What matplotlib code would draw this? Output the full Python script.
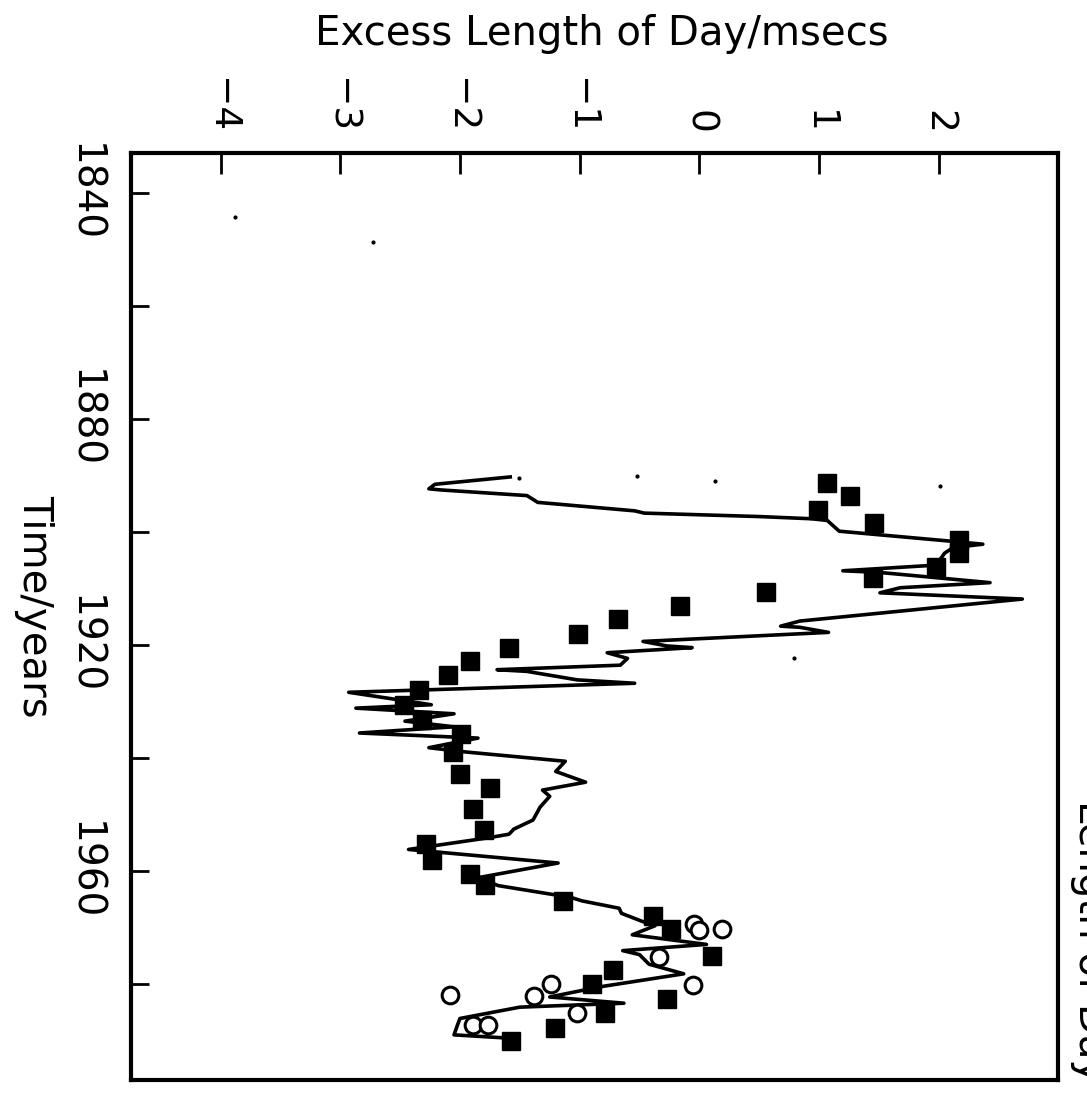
import matplotlib
matplotlib.use('Agg')
import matplotlib.pyplot as plt

# excess length of day curve (msecs) against time (years)
curve_years = [1890.3, 1891.6, 1892.4, 1892.6, 1893.6, 1894.8, 1896.3, 1896.7, 1897.3, 1897.7,
               1898.0, 1899.9, 1901.7, 1902.2, 1902.8, 1903.8, 1905.9, 1906.9, 1907.2, 1909.0,
               1909.9, 1910.8, 1911.9, 1915.8, 1916.7, 1916.9, 1917.8, 1919.4, 1920.2, 1920.5,
               1921.4, 1922.4, 1923.6, 1924.4, 1924.7, 1926.2, 1926.8, 1928.4, 1930.6, 1931.2,
               1932.2, 1933.5, 1934.5, 1935.6, 1936.5, 1938.2, 1938.9, 1940.6, 1942.4, 1944.3,
               1945.7, 1946.8, 1948.7, 1951.0, 1952.6, 1953.5, 1954.1, 1956.2, 1958.6, 1961.2,
               1962.6, 1964.7, 1965.3, 1966.6, 1967.5, 1968.9, 1969.7, 1971.3, 1973.0, 1974.1,
               1974.8, 1976.5, 1978.2, 1980.5, 1982.3, 1983.4, 1984.1, 1986.1, 1987.2, 1989.0,
               1989.6]
curve_lod = [-1.58, -2.21, -2.26, -2.16, -1.44, -1.35, -0.54, -0.46, 0.49, 0.94,
             1.07, 1.17, 2.12, 2.37, 2.12, 2.05, 1.98, 1.20, 1.51, 2.43,
             1.68, 1.51, 2.70, 0.84, 0.68, 0.84, 1.08, -0.47, -0.27, -0.06,
             -0.77, -0.60, -0.66, -1.69, -1.44, -1.02, -0.54, -2.93, -2.24, -2.87,
             -2.05, -2.46, -2.05, -2.84, -1.85, -2.26, -1.98, -1.12, -1.20, -0.95,
             -1.31, -1.25, -1.33, -1.39, -1.55, -1.59, -1.75, -2.43, -1.18, -1.85,
             -1.68, -1.07, -0.98, -0.67, -0.65, -0.48, -0.37, -0.56, 0.06, -0.64,
             -0.50, -0.42, -0.13, -0.83, -1.25, -0.63, -1.50, -2.00, -2.02, -2.05,
             -1.58]

# filled squares
square_years = [1891.3, 1893.6, 1896.1, 1898.5, 1901.4, 1903.8, 1906.2, 1908.2, 1910.7, 1913.1,
                1915.4, 1918.0, 1920.5, 1922.9, 1925.4, 1928.0, 1930.7, 1933.3, 1935.8, 1939.0,
                1942.8, 1945.3, 1949.0, 1952.8, 1955.2, 1958.0, 1960.5, 1962.5, 1965.4, 1967.9,
                1970.3, 1975.1, 1977.6, 1980.0, 1982.7, 1985.1, 1987.7, 1990.0]
square_lod = [1.07, 1.26, 0.99, 1.46, 2.17, 2.17, 1.98, 1.45, 0.56, -0.16,
              -0.68, -1.01, -1.59, -1.92, -2.10, -2.34, -2.47, -2.32, -1.99, -2.06,
              -2.00, -1.75, -1.89, -1.80, -2.28, -2.23, -1.92, -1.79, -1.14, -0.39,
              -0.24, 0.11, -0.72, -0.90, -0.27, -0.79, -1.21, -1.57]

# open circles
circle_years = [1982.0, 1980.0, 1982.2, 1987.2, 1987.3, 1985.2, 1975.3, 1969.4, 1970.4, 1970.3, 1980.2]
circle_lod = [-2.08, -1.24, -1.38, -1.89, -1.77, -1.02, -0.34, -0.04, 0.00, 0.19, -0.05]

# stray dots
dot_years = [1844.3, 1848.8, 1890.2, 1891.0, 1891.9, 1922.3, 1890.5]
dot_lod = [-3.88, -2.73, -0.52, 0.13, 2.01, 0.79, -1.51]

lod_ticks = [-4, -3, -2, -1, 0, 1, 2]
lod_labels = ['\u22124', '\u22123', '\u22122', '\u22121', '0', '1', '2']
year_ticks = [1840, 1860, 1880, 1900, 1920, 1940, 1960, 1980]
year_labels = ['1840', '', '1880', '', '1920', '', '1960', '']

fig = plt.figure(figsize=(10.87, 11.01), dpi=100)
ax = fig.add_axes([0.1205, 0.019, 0.853, 0.842])

ax.plot(curve_lod, curve_years, 'k-', lw=2.6)
ax.plot(square_lod, square_years, 'ks', ms=13)
ax.plot(circle_lod, circle_years, 'o', mfc='white', mec='k', ms=12, mew=2.2)
ax.plot(dot_lod, dot_years, 'k.', ms=4)

ax.set_xlim(-4.75, 3.0)
ax.set_ylim(1997, 1833)

ax.xaxis.tick_top()
ax.set_xticks(lod_ticks)
ax.set_xticklabels(lod_labels, rotation=-90)
ax.tick_params(axis='x', direction='in', length=15, width=2, pad=14, labelsize=27)

ax.set_yticks(year_ticks)
ax.set_yticklabels(year_labels, rotation=-90, va='center')
ax.tick_params(axis='y', direction='in', length=13, width=2, pad=20, labelsize=28)

for sp in ax.spines.values():
    sp.set_linewidth(3)

fig.text(602 / 1087, 1 - 45 / 1101, 'Excess Length of Day/msecs', fontsize=29,
         ha='center', va='baseline')
fig.text(34 / 1087, 1 - 606 / 1101, 'Time/years', fontsize=29, rotation=-90,
         ha='center', va='center')
# partly cut-off label at the right edge of the scan
fig.text(1070 / 1087, 1 - 800 / 1101, 'Length of Day', fontsize=29, rotation=-90,
         ha='left', va='top')

fig.savefig('out.png', dpi=100)
